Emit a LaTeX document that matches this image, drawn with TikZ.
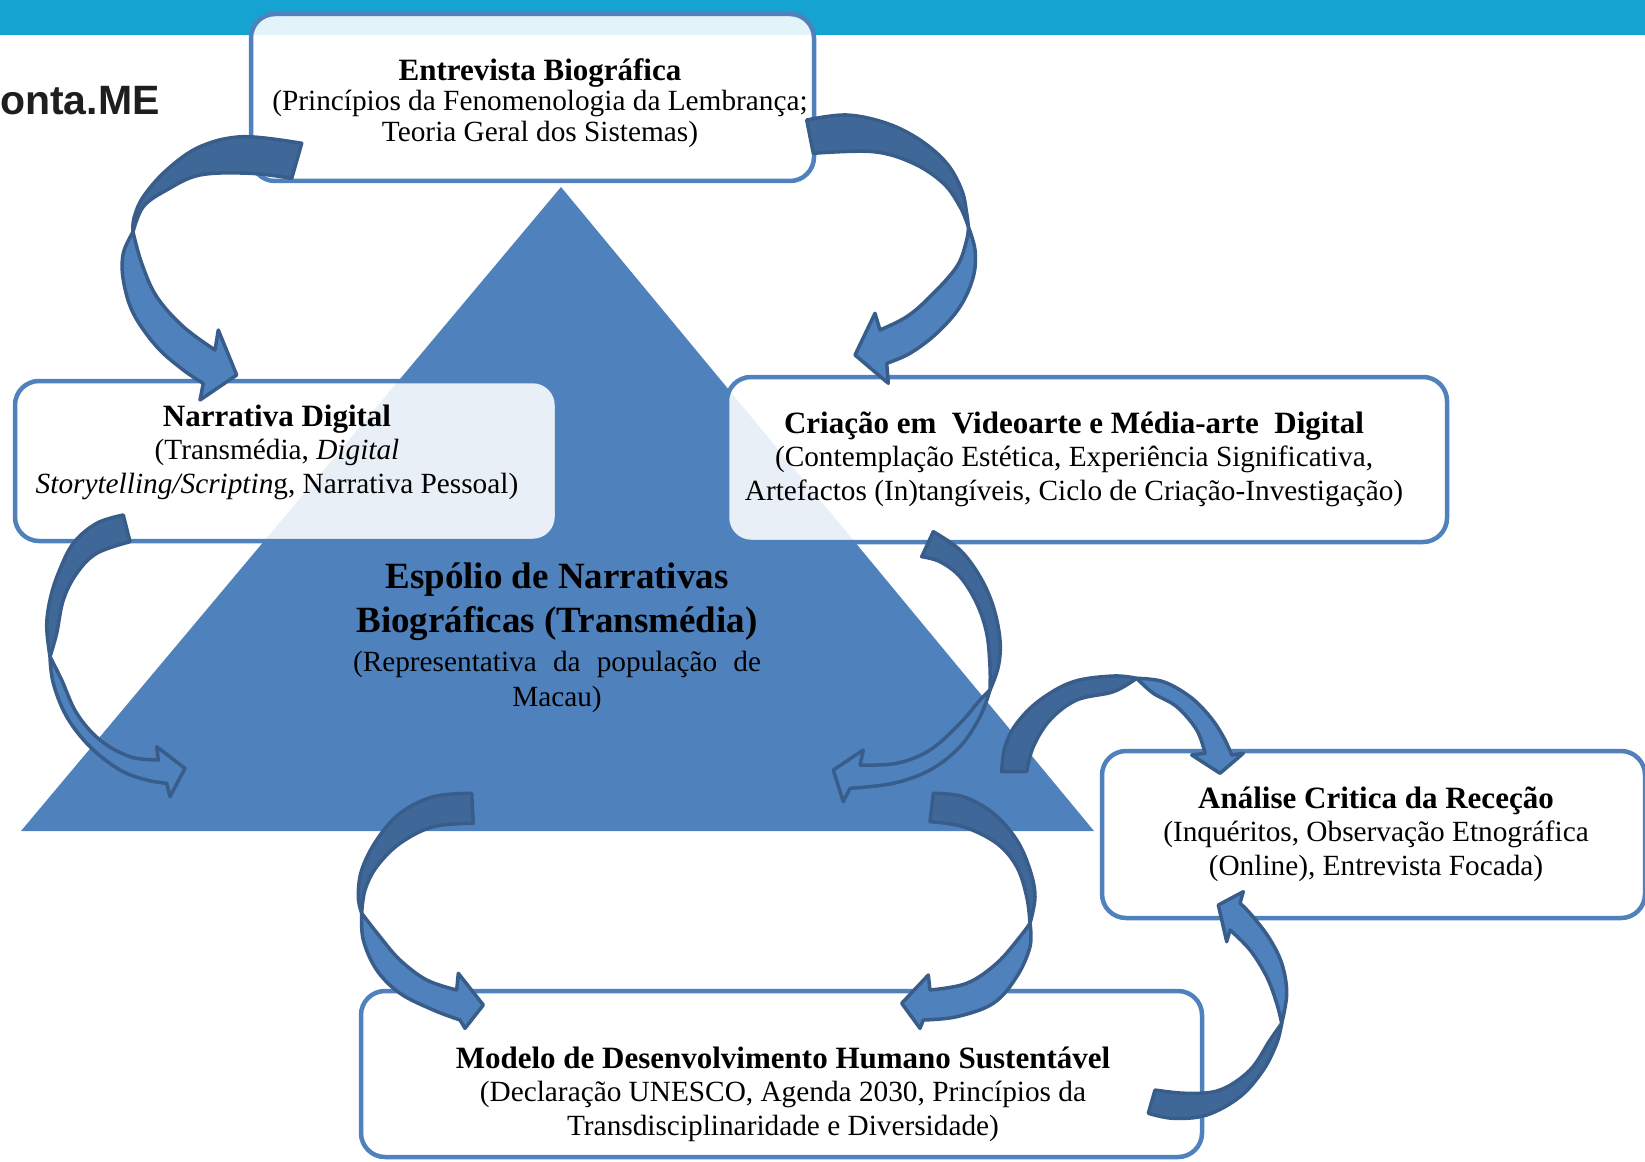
\documentclass[tikz,border=0pt]{standalone}
\usepackage{fontspec}
\setmainfont{Liberation Serif}
\newfontfamily\logofont{Liberation Sans}
\usetikzlibrary{calc}

\definecolor{bandcyan}{RGB}{21,163,210}
\definecolor{accentblue}{RGB}{79,129,189}
\definecolor{arrowdark}{RGB}{63,104,152}
\definecolor{arrowline}{RGB}{56,93,138}
\definecolor{logogray}{RGB}{30,30,30}

\tikzset{
  panel/.style={draw=accentblue, line width=4.5pt, fill=white, fill opacity=0.88,
    rounded corners=24pt, inner sep=0pt, shape=rectangle},
  boxtext/.style={align=center, inner sep=0pt, text=black,
    font=\fontsize{29.3}{33.5}\selectfont},
  backface/.style={fill=arrowdark, draw=arrowline, line width=3.5pt, line join=round},
  frontface/.style={fill=accentblue, draw=arrowline, line width=3.5pt, line join=round},
  smoothline/.style={smooth, tension=0.6},
}
\newcommand{\headline}{\fontsize{31}{33.5}\selectfont\bfseries}

\begin{document}
\begin{tikzpicture}[x=1pt, y=-1pt]
\clip (0,0) rectangle (1645,1161);

% header band and logo
\fill[bandcyan] (0,0) rectangle (1645,35);
\node[anchor=base west, inner sep=0pt, text=logogray,
      font=\logofont\fontsize{41}{41}\selectfont\bfseries] (logo) at (0,115) {onta.ME};

% central pyramid
\fill[accentblue] (561,187) -- (21,831) -- (1094,831) -- cycle;

% panels
\node[panel, minimum width=563pt, minimum height=167pt] (entrevista) at (532.5,97.5) {};
\node[panel, minimum width=542pt, minimum height=160pt] (narrativa) at (286,461) {};
\node[panel, minimum width=720pt, minimum height=165pt] (criacao) at (1087,459.5) {};
\node[panel, minimum width=543pt, minimum height=167pt] (analise) at (1373.5,834.5) {};
\node[panel, minimum width=841pt, minimum height=166pt] (modelo) at (781.5,1074) {};

% panel texts
\node[boxtext, font=\fontsize{29.3}{30.5}\selectfont] (entrevistaText) at (540,103)
  {{\fontsize{31}{30.5}\selectfont\bfseries Entrevista Biográfica}\\
   (Princípios da Fenomenologia da Lembrança;\\
   Teoria Geral dos Sistemas)};
\node[boxtext, font=\fontsize{29.3}{33.5}\selectfont] (narrativaText) at (277,452)
  {{\fontsize{31}{33.5}\selectfont\bfseries Narrativa Digital}\\
   (Transmédia, \textit{Digital}\\
   \textit{Storytelling/Scriptin}g, Narrativa Pessoal)};
\node[boxtext] (criacaoText) at (1074,459)
  {{\headline Criação em\ \ Videoarte e Média-arte\ \ Digital}\\
   (Contemplação Estética, Experiência Significativa,\\
   Artefactos (In)tangíveis, Ciclo de Criação-Investigação)};
\node[boxtext] (analiseText) at (1376,834)
  {{\headline Análise Critica da Receção}\\
   (Inquéritos, Observação Etnográfica\\
   (Online), Entrevista Focada)};
\node[boxtext] (modeloText) at (783,1094)
  {{\headline Modelo de Desenvolvimento Humano Sustentável}\\
   (Declaração UNESCO, Agenda 2030, Princípios da\\
   Transdisciplinaridade e Diversidade)};

% pyramid texts
\node[align=center, inner sep=0pt, font=\fontsize{37}{44}\selectfont\bfseries] (espolioText) at (557,602)
  {Espólio de Narrativas\\Biográficas (Transmédia)};
\node[align=center, inner sep=0pt, font=\fontsize{29.3}{35}\selectfont] (espolioSub) at (557,681.5)
  {\makebox[408pt][s]{(Representativa da população de}\\Macau)};

% curved block arrows: darker back face, then lighter front face with head
% Entrevista -> Narrativa
\filldraw[backface] plot[smoothline] coordinates {(301.7,143.3) (243.3,136.7) (200,146.7) (166.7,170) (143.3,196.7) (134,218) (133,232)}
  -- plot[smoothline] coordinates {(133,232) (143.3,206.7) (166.7,190) (200,175) (250,173.3) (291.7,178.3)} -- cycle;
\filldraw[frontface] plot[smoothline] coordinates {(133,232) (123.3,253.3) (123.3,280) (133.3,313.3) (156.7,346.7) (183.3,370) (203.3,383.3)}
  -- (200,400) -- (236.7,375) -- (218.3,330)
  -- plot[smoothline] coordinates {(215,350) (183.3,326.7) (156.7,296.7) (141.7,263.3) (133,232)} -- cycle;

% Entrevista -> Criacao
\filldraw[backface] plot[smoothline] coordinates {(806.7,120) (846.7,115) (886.7,123.3) (920,140) (946.7,163.3) (961.7,190) (966.7,213.3) (968.3,226.7)}
  -- plot[smoothline] coordinates {(968.3,226.7) (960,206.7) (943.3,183.3) (913.3,163.3) (873.3,151.7) (813.3,153.3)} -- cycle;
\filldraw[frontface] plot[smoothline] coordinates {(968.3,226.7) (975,250) (973.3,276.7) (960,306.7) (936.7,333.3) (910,353.3) (886.7,363.3)}
  -- (888.3,383.3) -- (855,355) -- (875,313.3)
  -- plot[smoothline] coordinates {(880,330) (906.7,316.7) (930,296.7) (956.7,266.7) (966.7,240) (968.3,226.7)} -- cycle;

% Narrativa -> pyramid
\filldraw[backface] plot[smoothline] coordinates {(123.3,515) (96.7,523.3) (73.3,543.3) (58.3,573.3) (50,600) (46.7,626.7) (50,656.7)}
  -- plot[smoothline] coordinates {(50,656.7) (56.7,633.3) (63.3,600) (76.7,573.3) (96.7,553.3) (130,541.7)} -- cycle;
\filldraw[frontface] plot[smoothline] coordinates {(50,656.7) (53.3,683.3) (66.7,716.7) (90,746.7) (120,770) (146.7,780) (166.7,783.3)}
  -- (170,796.7) -- (185,768.3) -- (156.7,746.7)
  -- plot[smoothline] coordinates {(158.3,760) (130,756.7) (100,740) (76.7,713.3) (61.7,680) (50,656.7)} -- cycle;

% Criacao -> pyramid
\filldraw[backface] plot[smoothline] coordinates {(933.3,531.7) (960,550) (980,576.7) (993.3,606.7) (1000,640) (998.3,666.7) (990,690)}
  -- plot[smoothline] coordinates {(990,690) (990,666.7) (986.7,633.3) (976.7,603.3) (960,576.7) (940,561.7) (921.7,556.7)} -- cycle;
\filldraw[frontface] plot[smoothline] coordinates {(990,690) (980,716.7) (960,746.7) (930,770) (893.3,783.3) (850,788.3)}
  -- (843.3,801.7) -- (833.3,770) -- (863.3,750)
  -- plot[smoothline] coordinates {(860,765) (896.7,763.3) (930,750) (960,723.3) (980,700) (990,690)} -- cycle;

% pyramid -> Analise
\filldraw[backface] plot[smoothline] coordinates {(1001.7,771.7) (1005,746.7) (1016.7,723.3) (1040,700) (1073.3,681.7) (1113.3,676) (1136.7,678.3)}
  -- plot[smoothline] coordinates {(1136.7,678.3) (1113.3,691.7) (1076.7,700) (1050,720) (1033.3,746.7) (1026.7,771.7)} -- cycle;
\filldraw[frontface] plot[smoothline] coordinates {(1136.7,678.3) (1163.3,681.7) (1190,696.7) (1210,716.7) (1223.3,736.7) (1231.7,755)}
  -- (1243.3,753.3) -- (1220,773.3) -- (1191.7,755)
  -- plot[smoothline] coordinates {(1205,753.3) (1196.7,730) (1176.7,706.7) (1153.3,693.3) (1136.7,678.3)} -- cycle;

% Modelo -> Analise
\filldraw[backface] plot[smoothline] coordinates {(1148.3,1113.3) (1173.3,1118.3) (1206.7,1115) (1240,1096.7) (1263.3,1070) (1276.7,1043.3) (1281.7,1023.3)}
  -- plot[smoothline] coordinates {(1281.7,1023.3) (1270,1040) (1250,1070) (1220,1090) (1186.7,1093.3) (1155,1090)} -- cycle;
\filldraw[frontface] plot[smoothline] coordinates {(1281.7,1023.3) (1286.7,993.3) (1281.7,963.3) (1268.3,936.7) (1250,913.3) (1240,903.3)}
  -- (1243.3,891.7) -- (1218.3,905) -- (1226.7,941.7)
  -- plot[smoothline] coordinates {(1230,930) (1250,950) (1266.7,976.7) (1276.7,1003.3) (1281.7,1023.3)} -- cycle;

% pyramid -> Modelo (left)
\filldraw[backface] plot[smoothline] coordinates {(471.7,793.3) (433.3,796.7) (400,813.3) (376.7,840) (361.7,870) (358.3,896.7) (361.7,913.3)}
  -- plot[smoothline] coordinates {(361.7,913.3) (365,890) (376.7,866.7) (400,843.3) (433.3,826.7) (473.3,823.3)} -- cycle;
\filldraw[frontface] plot[smoothline] coordinates {(361.7,913.3) (363.3,940) (376.7,970) (400,993.3) (433.3,1010) (460,1020)}
  -- (465,1028.3) -- (483.3,1005) -- (458.3,973.3)
  -- plot[smoothline] coordinates {(456.7,990) (426.7,980) (400,960) (380,936.7) (361.7,913.3)} -- cycle;

% pyramid -> Modelo (right)
\filldraw[backface] plot[smoothline] coordinates {(933.3,793.3) (963.3,796.7) (993.3,813.3) (1016.7,840) (1030,870) (1035,896.7) (1030,923.3)}
  -- plot[smoothline] coordinates {(1030,923.3) (1026.7,896.7) (1016.7,866.7) (996.7,843.3) (963.3,826.7) (930,821.7)} -- cycle;
\filldraw[frontface] plot[smoothline] coordinates {(1030,923.3) (1030,946.7) (1016.7,976.7) (993.3,1003.3) (956.7,1016.7) (923.3,1020)}
  -- (920,1028.3) -- (901.7,1003.3) -- (928.3,975)
  -- plot[smoothline] coordinates {(930,990) (966.7,983.3) (996.7,963.3) (1020,936.7) (1030,923.3)} -- cycle;

\end{tikzpicture}
\end{document}
